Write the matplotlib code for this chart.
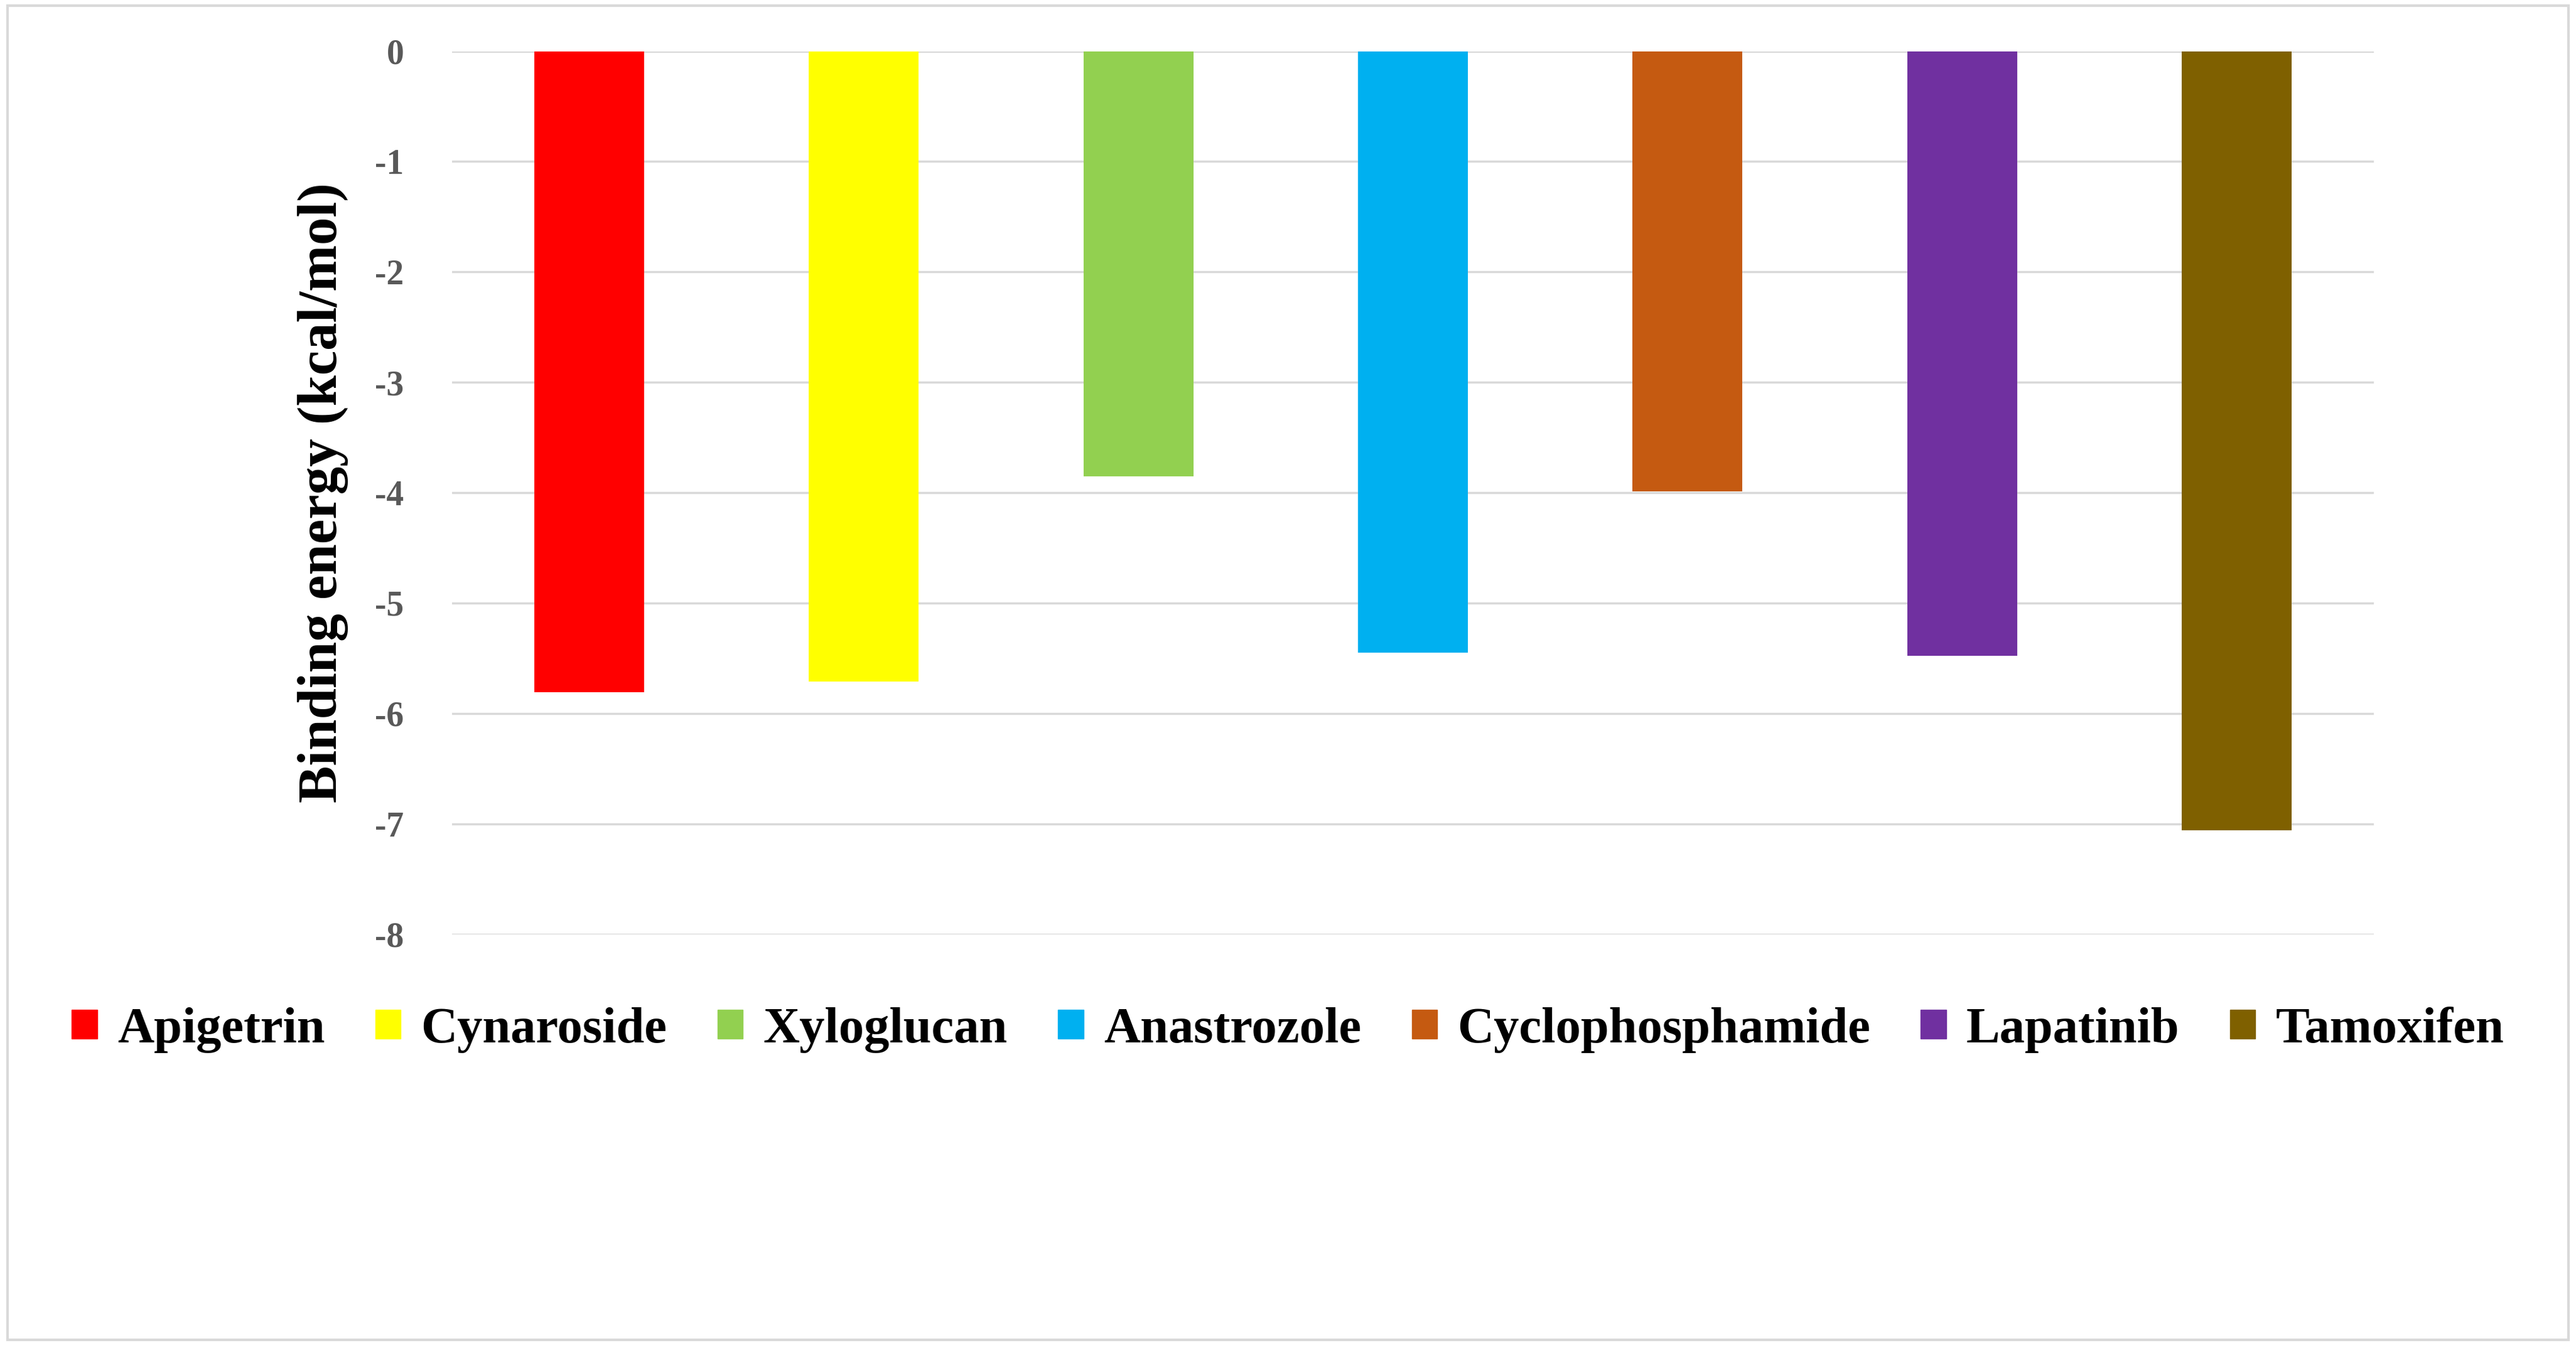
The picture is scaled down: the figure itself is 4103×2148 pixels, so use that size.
import matplotlib
matplotlib.use("Agg")
import matplotlib.pyplot as plt
from matplotlib.patches import Rectangle

compounds = ["Apigetrin", "Cynaroside", "Xyloglucan", "Anastrozole", "Cyclophosphamide", "Lapatinib", "Tamoxifen"]
energies = [-5.81, -5.71, -3.85, -5.45, -3.99, -5.48, -7.06]
colors = ["#FF0000", "#FFFF00", "#92D050", "#00B0F0", "#C55A11", "#7030A0", "#7F6000"]
yticks = [0, -1, -2, -3, -4, -5, -6, -7, -8]

plt.rcParams['font.family'] = ['Liberation Serif', 'DejaVu Serif']
fig = plt.figure(figsize=(41.03, 21.48), dpi=100)
fig.patches.append(Rectangle((0.003, 0.006), 0.994, 0.99, transform=fig.transFigure,
                             fill=False, edgecolor="#D9D9D9", linewidth=3))
ax = fig.add_axes([0.1754, 0.307, 0.9216 - 0.1754, 0.655])
x = list(range(len(compounds)))
ax.bar(x, energies, width=0.4, color=colors, zorder=3)
ax.set_xlim(-0.5, len(compounds) - 0.5)
ax.set_ylim(-8, 0)
ax.set_yticks(yticks)
ax.set_yticklabels([str(t) for t in yticks], fontsize=40, fontweight='bold', color='#595959')
ax.set_xticks([])
ax.tick_params(axis='y', length=0, pad=55)
for s in ax.spines.values():
    s.set_visible(False)
ax.grid(axis='y', color='#D9D9D9', linewidth=2.5, zorder=0)
ax.set_ylabel("Binding energy (kcal/mol)", fontsize=64, fontweight='bold', labelpad=30)
handles = [Rectangle((0, 0), 1, 1, color=c) for c in colors]
fig.legend(handles, compounds, loc='center', bbox_to_anchor=(0.5, 0.236), ncol=7,
           frameon=False, prop={'size': 58, 'weight': 'bold'}, handlelength=0.5,
           handleheight=0.5, handletextpad=0.4, columnspacing=1.0)
fig.savefig("out.png", dpi=100)
